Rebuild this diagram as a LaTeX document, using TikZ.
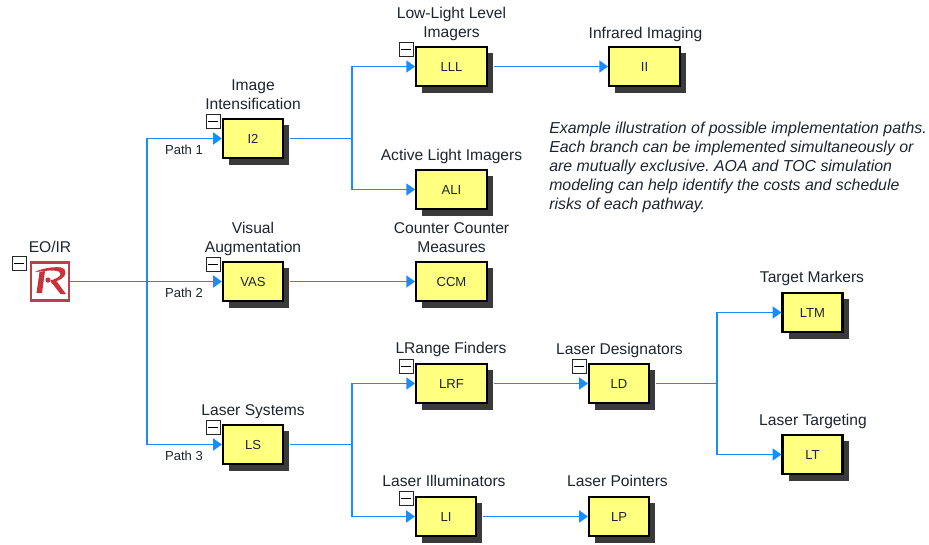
\documentclass[tikz,border=0pt]{standalone}
\usepackage{fontspec}
\setmainfont{Liberation Sans}
\usetikzlibrary{arrows.meta,calc}
\definecolor{boxfill}{HTML}{FFFF80}
\definecolor{linkblue}{HTML}{1A8CFF}
\definecolor{shade}{HTML}{3A3A3A}
\definecolor{txt}{HTML}{1E2530}
\definecolor{iconred}{HTML}{C8323A}
\tikzset{
 x=0.75pt,y=-0.75pt,
 blockbox/.style={draw=black,line width=1.7pt,fill=boxfill,minimum height=29.5pt,inner sep=0pt,font=\fontsize{9.8}{11}\selectfont,text=txt},
 wide/.style={blockbox,minimum width=53pt},
 narrow/.style={blockbox,minimum width=45pt},
 shadowbox/.style={fill=shade,draw=none},
 toplabel/.style={font=\fontsize{11.7}{14.2}\selectfont,text=txt,align=center,anchor=south,inner sep=0pt},
 pathlabel/.style={font=\fontsize{9.8}{11}\selectfont,text=txt,inner sep=0pt},
 minusbox/.style={draw=black!85,line width=0.75pt,fill=white,minimum size=10.5pt,inner sep=0pt},
 link/.style={draw=linkblue,line width=1.15pt},
 arrowlink/.style={link,-{Triangle[length=6.5pt,width=9pt]}},
 note/.style={font=\itshape\fontsize{11.9}{14.25}\selectfont,text=txt,align=left,anchor=north west,inner sep=0pt},
}
\begin{document}
\begin{tikzpicture}
\frenchspacing
\useasboundingbox (0,0) rectangle (929,544);
\fill[white] (0,0) rectangle (929,544);

% shadows
\foreach \cx/\cy/\hw in {253/138.5/30,253/281.5/30,253/444.5/30,451.5/66.5/35.5,451.5/189.5/35.5,451.5/281.5/35.5,451.5/383.5/35.5,446/516.5/30,644.5/66.5/35.5,619/383.5/30,619/516.5/30,812.5/312.5/30,812.5/454.5/30}{
 \fill[shadowbox] (\cx-\hw+6,\cy-20+6) rectangle (\cx+\hw+6,\cy+20+6);
}

% blocks
\node[narrow] (i2) at (253,138.5) {I2};
\node[narrow] (vas) at (253,281.5) {VAS};
\node[narrow] (ls) at (253,444.5) {LS};
\node[wide] (lll) at (451.5,66.5) {LLL};
\node[wide] (ali) at (451.5,189.5) {ALI};
\node[wide] (ccm) at (451.5,281.5) {CCM};
\node[wide] (lrf) at (451.5,383.5) {LRF};
\node[narrow] (li) at (446,516.5) {LI};
\node[wide] (ii) at (644.5,66.5) {II};
\node[narrow] (ld) at (619,383.5) {LD};
\node[narrow] (lp) at (619,516.5) {LP};
\node[narrow] (ltm) at (812.5,312.5) {LTM};
\node[narrow] (lt) at (812.5,454.5) {LT};

% EO/IR icon
\node[draw=iconred!80!gray,line width=2.2pt,fill=white,minimum size=28.5pt,inner sep=0pt] (eo) at (50,281.5) {};
\fill[iconred] (35,272) .. controls (42,268) and (55,266.5) .. (61,267.5)
  .. controls (67,268.5) and (67,276) .. (61,279) .. controls (58,281) and (54,282) .. (51,282.5)
  -- (50.5,280.5) .. controls (55,279) and (61,277) .. (60.5,273.5)
  .. controls (60,270) and (50,270) .. (45,271) -- cycle;
\fill[iconred] (39.5,272) -- (45,271) -- (42,293) -- (36.5,293) -- cycle;
\fill[iconred] (51,282) -- (56,280.5) -- (66,294) -- (60.5,294) -- cycle;
\fill[iconred] (48,280) circle[radius=2.6];

% junctions
\coordinate (j0) at (147,281.5);
\coordinate (j1) at (352,138.5);
\coordinate (j2) at (352,444.5);
\coordinate (j3) at (717,383.5);

% links
\draw[arrowlink] (eo.east) -- (vas.west);
\draw[arrowlink] (j0) |- (i2.west);
\draw[arrowlink] (j0) |- (ls.west);
\draw[link] ([xshift=4.5pt]i2.east) -- (j1);
\draw[arrowlink] (j1) |- (lll.west);
\draw[arrowlink] (j1) |- (ali.west);
\draw[arrowlink] ([xshift=4.5pt]vas.east) -- (ccm.west);
\draw[link] ([xshift=4.5pt]ls.east) -- (j2);
\draw[arrowlink] (j2) |- (lrf.west);
\draw[arrowlink] (j2) |- (li.west);
\draw[arrowlink] ([xshift=4.5pt]lll.east) -- (ii.west);
\draw[arrowlink] ([xshift=4.5pt]lrf.east) -- (ld.west);
\draw[arrowlink] ([xshift=4.5pt]li.east) -- (lp.west);
\draw[link] ([xshift=4.5pt]ld.east) -- (j3);
\draw[arrowlink] (j3) |- (ltm.west);
\draw[arrowlink] (j3) |- (lt.west);

% minus boxes
\foreach \n/\mx/\my in {m1/213/121,m2/213/264,m3/213/427,m4/406/49,m5/406/366,m6/406/498.5,m7/579/366,m8/19/263.5}{
 \node[minusbox] (\n) at (\mx,\my) {};
 \draw[black,line width=0.75pt] ([xshift=3.4pt]\n.center) -- ([xshift=-3.4pt]\n.center);
}

% labels
\node[toplabel] (t1) at (253,110) {Image\\Intensification};
\node[toplabel] (t2) at (253,256) {Visual\\Augmentation};
\node[toplabel] (t3) at (253,419) {Laser Systems};
\node[toplabel] (t4) at (451.5,41) {Low-Light Level\\Imagers};
\node[toplabel] (t5) at (451.5,164) {Active Light Imagers};
\node[toplabel] (t6) at (451.5,253) {Counter Counter\\Measures};
\node[toplabel] (t7) at (451,357) {LRange Finders};
\node[toplabel] (t8) at (444,487) {Laser Illuminators};
\node[toplabel] (t9) at (645.5,42) {Infrared Imaging};
\node[toplabel] (t10) at (619.5,358) {Laser Designators};
\node[toplabel] (t11) at (617.5,487) {Laser Pointers};
\node[toplabel] (t12) at (812,286) {Target Markers};
\node[toplabel] (t13) at (813,429) {Laser Targeting};
\node[toplabel] (t14) at (50,253) {EO/IR};

\node[pathlabel] (p1) at (184,150) {Path 1};
\node[pathlabel] (p2) at (184,293) {Path 2};
\node[pathlabel] (p3) at (184,456) {Path 3};

\node[note] (nt) at (549,122) {Example illustration of possible implementation paths.\\Each branch can be implemented simultaneously or\\are mutually exclusive. AOA and TOC simulation\\modeling can help identify the costs and schedule\\risks of each pathway.};
\end{tikzpicture}
\end{document}
